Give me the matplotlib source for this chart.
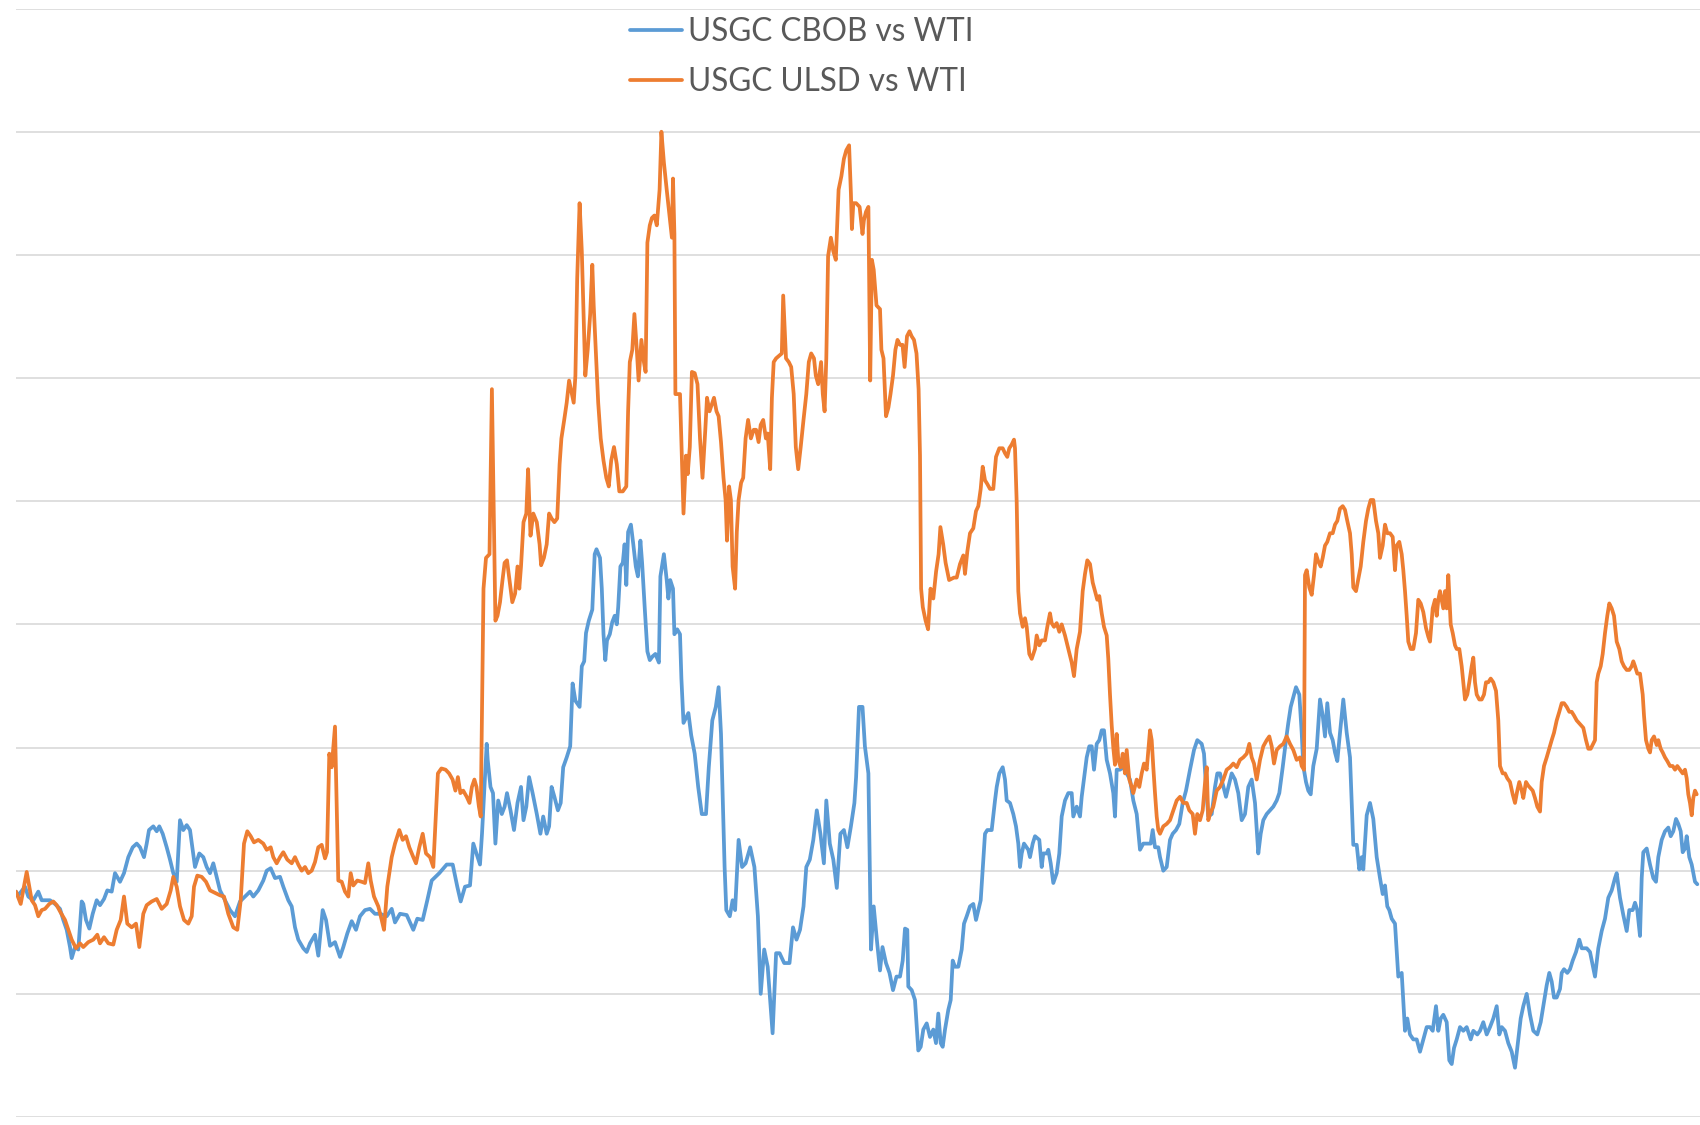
import matplotlib
matplotlib.use("Agg")
from matplotlib import pyplot as plt

plt.rcParams['font.family'] = ['Lato', 'DejaVu Sans']

# x = trading-day index inside the window, y = spread in gridline units
cbob_days = [
    0, 2.3, 9, 12.3, 17.3, 22.3, 25.7, 34, 39, 44, 47.3, 50.7, 54, 55.7, 59, 62.3,
    65.7, 67.3, 70, 73.3, 76.7, 80.7, 84, 88, 91.3, 95.7, 99, 104, 108, 112.3, 116.7,
    120.7, 124, 128, 130.7, 133, 137.3, 140.7, 143.3, 146.7, 150.7, 154, 157.3, 160.7,
    164, 167.3, 170.7, 174, 179, 183.3, 187.3, 190.7, 194, 197.3, 204, 209, 214, 219,
    224, 229, 234, 237.3, 242.3, 247.3, 250.7, 254.7, 259, 264, 267.3, 272.3, 275.7,
    279, 282.3, 287.3, 290.7, 294, 299, 302.3, 306.7, 310, 314, 319, 324, 327.3, 331.3,
    335.7, 340, 344, 349, 354, 359, 364, 370.7, 375.7, 379, 384, 390.7, 397.3, 401.3,
    406.7, 411.3, 415.7, 423.3, 430.7, 436.7, 441.3, 444.7, 449, 454, 457.3, 464, 466,
    470.7, 471.7, 474.5, 477, 479.4, 482.2, 485.8, 488.6, 491, 494.5, 498, 501.5, 505,
    507.5, 510.3, 513.1, 516.6, 520.8, 524.4, 527.2, 530.7, 533.1, 535.6, 538.4, 541.9,
    544.7, 547.2, 550.7, 554.2, 556.6, 559.4, 563.6, 565.8, 568.2, 570, 572.8, 576.3,
    578.7, 580.5, 584, 585.8, 587.5, 589.3, 591, 593.8, 596.3, 598.7, 600.8, 602.2,
    604.4, 606.8, 608.6, 610.3, 612.1, 614.9, 617.3, 619.8, 621.9, 624.4, 626.1, 628.9,
    631.4, 633.8, 636.6, 639.4, 642.9, 644.4, 647.9, 650.7, 652.4, 654.2, 657, 658.4,
    661.2, 664, 665.4, 667.5, 670, 672.4, 675.2, 678.7, 682.2, 685.8, 690, 692.8, 696.3,
    699.8, 702.6, 705, 706.8, 708.6, 710.3, 713.8, 716.6, 719.1, 722.6, 726.1, 729.6,
    734.2, 738.4, 741.9, 744.7, 748.2, 751.7, 756.6, 760.1, 763.6, 768.2, 773.5, 777,
    780.5, 784, 787.5, 790.3, 793.8, 797.3, 800.8, 804.4, 807.9, 810.3, 813.8, 817.3,
    820.8, 824.4, 827.9, 831.4, 834.9, 838.4, 840.1, 843, 846.5, 848.9, 852.4, 854.2,
    855, 857.7, 861.2, 864, 866.5, 870, 873.5, 877, 880.5, 884, 886.7, 889, 891.3, 892.3,
    895.7, 899, 902.3, 904.7, 907.3, 910.7, 914, 917.3, 920, 922.3, 924.7, 926.7, 929,
    932.3, 934.7, 936.7, 939, 942.3, 945.7, 948, 950.7, 954, 957.3, 960, 962.3, 964.7,
    969, 971.3, 975.7, 979, 980.7, 983.3, 986.7, 989, 990.7, 994, 997.3, 1000, 1002.3,
    1004, 1005.7, 1008, 1012.3, 1014, 1016.7, 1019, 1023.3, 1025.7, 1027.3, 1030.7,
    1032.3, 1034.7, 1037.3, 1040.7, 1043.3, 1045.7, 1049, 1052.3, 1055.7, 1057.3,
    1060.7, 1064, 1065.7, 1070.7, 1073.3, 1075.7, 1078, 1080.7, 1083.3, 1085.7, 1088,
    1090.7, 1094, 1097.3, 1099, 1100.7, 1104, 1107.3, 1110.7, 1114, 1117.3, 1120.7,
    1124, 1127.3, 1130.7, 1134.7, 1136.7, 1139, 1142.3, 1144, 1147.3, 1150.7, 1154,
    1156.7, 1160, 1163.3, 1166.7, 1170, 1174, 1178, 1181.3, 1185.7, 1188, 1190, 1192.3,
    1195.7, 1199, 1201.3, 1204, 1210, 1213.3, 1215.7, 1219, 1222.3, 1225.7, 1229,
    1232.3, 1235.7, 1239, 1242.3, 1244.7, 1247.3, 1250.7, 1254, 1257.3, 1260.7, 1263.3,
    1266.7, 1270, 1272.3, 1274.7, 1277.3, 1280, 1283.3, 1285.7, 1287.3, 1290, 1292.3,
    1294.7, 1297.3, 1300.7, 1304, 1306.7, 1309, 1311.3, 1314, 1316.7, 1319, 1321.3,
    1324, 1327.3, 1330.7, 1334, 1337.3, 1340.7, 1343.3, 1345.7, 1347.3, 1350.7, 1354,
    1357.3, 1360.7, 1364, 1366.7, 1369, 1371.3, 1373.3, 1375.7, 1379, 1382.3, 1385.7,
    1389, 1391.3, 1394, 1397.3, 1400.7, 1404, 1407.3, 1410.7, 1414, 1416.7, 1420,
    1422.3, 1424.7, 1427.3, 1430.7, 1433.3, 1435.7, 1438, 1440.7, 1444, 1447.3, 1450.7,
    1454.7, 1457.3, 1461.3, 1464, 1467.3, 1470.7, 1474, 1477.3, 1480.7, 1483.3, 1485.7,
    1489, 1492.3, 1495.7, 1499, 1502.3, 1504.7, 1507.3, 1510.7, 1514, 1517.3, 1521.3,
    1524.7, 1527.3, 1530.7, 1533.3, 1535.7, 1538, 1540.7, 1544, 1545.7, 1548, 1551.3,
    1554, 1556.7, 1560, 1563.3, 1565.7, 1570.7, 1574, 1579, 1582.3, 1585.7, 1589,
    1592.3, 1595.7, 1599, 1600.7, 1604, 1607.3, 1610.7, 1613.3, 1616.7, 1619, 1621.3,
    1624, 1625.7, 1627.3, 1630.7, 1634, 1637.3, 1640, 1642.3, 1645.7, 1649, 1652.3,
    1654.7, 1657.3, 1660, 1662.3, 1664.7, 1666.7, 1669, 1670.7, 1673.3, 1675.7, 1679,
    1681.3,
]
cbob_spread = [
    1.83, 1.80, 1.87, 1.79, 1.76, 1.83, 1.76, 1.76, 1.73, 1.69, 1.60, 1.52, 1.38, 1.29, 1.38, 1.36,
    1.75, 1.73, 1.60, 1.53, 1.65, 1.76, 1.72, 1.77, 1.84, 1.83, 1.98, 1.91, 1.98, 2.11, 2.19,
    2.22, 2.19, 2.11, 2.22, 2.33, 2.36, 2.32, 2.36, 2.30, 2.19, 2.09, 1.98, 1.91,
    2.41, 2.33, 2.37, 2.33, 2.03, 2.14, 2.11, 2.03, 1.98, 2.06, 1.84, 1.76, 1.68, 1.63,
    1.75, 1.79, 1.83, 1.79, 1.84, 1.92, 2.00, 2.02, 1.94, 1.95, 1.87, 1.76, 1.71,
    1.54, 1.44, 1.37, 1.34, 1.41, 1.48, 1.31, 1.68, 1.60, 1.39, 1.42, 1.30, 1.38, 1.49,
    1.59, 1.52, 1.63, 1.68, 1.69, 1.65, 1.65, 1.63, 1.69, 1.58, 1.65, 1.64, 1.52, 1.61,
    1.60, 1.76, 1.92, 1.98, 2.05, 2.05, 1.87, 1.75, 1.87, 1.88, 2.22, 2.05, 2.30,
    3.03, 2.90, 2.68, 2.63, 2.22, 2.57, 2.46, 2.52, 2.63, 2.49, 2.33, 2.55, 2.68,
    2.41, 2.52, 2.76, 2.63, 2.46, 2.30, 2.44, 2.30, 2.36, 2.68, 2.60, 2.49,
    2.55, 2.84, 2.92, 3.01, 3.52, 3.38, 3.33, 3.66, 3.70, 3.93, 4.03, 4.12,
    4.57, 4.61, 4.54, 4.29, 3.92, 3.71, 3.87, 3.92, 4.02, 4.07, 4.00, 4.14,
    4.47, 4.50, 4.65, 4.32, 4.75, 4.81, 4.65, 4.47, 4.39, 4.68, 4.50, 4.11,
    3.78, 3.71, 3.74, 3.76, 3.69, 4.39, 4.57, 4.36, 4.21, 4.36, 4.29, 3.92,
    3.96, 3.92, 3.56, 3.20, 3.24, 3.28, 3.10, 2.95, 2.68, 2.46, 2.46, 2.84, 3.22,
    3.33, 3.49, 3.11, 2.57, 2.03, 1.68, 1.63, 1.76, 1.68, 2.25, 2.03, 2.06,
    2.19, 2.03, 1.63, 1.00, 1.36, 1.22, 0.68, 1.33, 1.33, 1.25, 1.25, 1.54,
    1.44, 1.52, 1.71, 2.03, 2.09, 2.25, 2.49, 2.30, 2.06, 2.57, 2.22, 2.09,
    1.86, 2.30, 2.33, 2.19, 2.36, 2.55, 2.76, 3.33, 3.33, 3.01, 2.79, 1.76,
    1.36, 1.71, 1.41, 1.19, 1.38, 1.25, 1.17, 1.03, 1.14, 1.14, 1.27, 1.53, 1.52, 1.06,
    1.03, 0.95, 0.54, 0.57, 0.71, 0.76, 0.65, 0.71, 0.60, 0.84, 0.60, 0.57, 0.71,
    0.87, 0.95, 1.27, 1.22, 1.22, 1.36, 1.57, 1.63, 1.71, 1.73, 1.60, 1.68, 1.76,
    2.30, 2.33, 2.33, 2.57, 2.68, 2.79, 2.84, 2.74, 2.57, 2.55, 2.46, 2.36, 2.22,
    2.03, 2.14, 2.22, 2.17, 2.11, 2.22, 2.28, 2.25, 2.03, 2.14, 2.14,
    2.17, 2.06, 1.90, 1.98, 2.14, 2.44, 2.57, 2.63, 2.63, 2.44,
    2.52, 2.44, 2.60, 2.92, 3.01, 3.01, 2.82, 3.03, 3.06, 3.14, 3.14,
    2.90, 2.79, 2.63, 2.44, 2.82, 2.82, 2.84, 2.79, 2.74, 2.57, 2.46,
    2.17, 2.22, 2.22, 2.22, 2.33, 2.19, 2.19, 2.11, 2.00, 2.03, 2.25,
    2.30, 2.33, 2.38, 2.55, 2.65, 2.82, 2.98, 3.06, 3.03, 2.95, 2.68, 2.44,
    2.46, 2.68, 2.79, 2.79, 2.60, 2.71, 2.79, 2.74, 2.63, 2.41, 2.46,
    2.68, 2.74, 2.55, 2.14, 2.30, 2.41, 2.46, 2.49, 2.52, 2.57, 2.63,
    2.84, 3.06, 3.20, 3.33, 3.41, 3.49, 3.43, 3.12, 2.85, 2.72, 2.65,
    2.62, 2.85, 2.99, 3.39, 3.26, 3.09, 3.36, 3.12, 3.06, 2.96, 2.89,
    3.12, 3.39, 3.12, 2.92, 2.21, 2.21, 2.01, 2.11, 2.01, 2.45, 2.55,
    2.42, 2.11, 1.94, 1.81, 1.88, 1.71, 1.68, 1.61, 1.57, 1.14, 1.17,
    0.70, 0.80, 0.67, 0.63, 0.63, 0.53, 0.63, 0.73, 0.73, 0.70, 0.90,
    0.70, 0.80, 0.83, 0.77, 0.46, 0.43, 0.56, 0.63, 0.73, 0.70, 0.73,
    0.63, 0.70, 0.67, 0.70, 0.77, 0.67, 0.73, 0.80, 0.90, 0.67, 0.73,
    0.70, 0.60, 0.53, 0.40, 0.63, 0.80, 0.90, 1.00, 0.83, 0.70, 0.67,
    0.77, 0.90, 1.07, 1.17, 1.10, 0.97, 0.97, 1.04, 1.17, 1.20, 1.17,
    1.20, 1.27, 1.34, 1.44, 1.37, 1.37, 1.34, 1.14, 1.37, 1.51, 1.61,
    1.78, 1.84, 1.94, 1.98, 1.78, 1.64, 1.51, 1.68, 1.68, 1.74, 1.68,
    1.47, 1.94, 2.15, 2.18, 2.05, 1.94, 1.91, 2.11, 2.25, 2.32, 2.35,
    2.28, 2.32, 2.42, 2.38, 2.32, 2.15, 2.18, 2.28, 2.11, 2.05, 1.91,
    1.89,
]

ulsd_days = [
    0, 4.7, 10.7, 13.3, 15.7, 19, 22.3, 25.7, 29, 33.3, 37.3, 40.7, 44, 49, 52.3, 55.7,
    60, 64, 67.3, 72.3, 77.3, 81.3, 84, 88, 92.3, 97.3, 100.7, 104.7, 108, 111.3, 115.7,
    120, 123.3, 127.3, 130.7, 135.7, 140.7, 145.7, 150.7, 154.7, 157.3, 160.7, 164, 168,
    172.3, 175.7, 178, 181.3, 185.7, 190, 194, 199, 204, 208, 212.3, 217.3, 221.3,
    224.7, 228, 231.3, 234.7, 238, 242.3, 247.3, 250.7, 254.7, 257.3, 260.7, 264, 267.3,
    271.3, 275.7, 279, 282.3, 285.7, 289, 292.3, 295.7, 299, 302.3, 305.7, 309, 311,
    313.3, 315.7, 319, 322.3, 325.7, 329, 332.3, 334.7, 337.3, 341.3, 345.7, 349, 352.3,
    354.7, 358, 362.3, 365.7, 368, 371.3, 375.7, 379, 383.3, 386.7, 390, 393.3, 397.3,
    400, 403.3, 406.7, 410, 414, 417.3, 421.9, 425.4, 429.6, 433.1, 436.6, 439.4, 441.9,
    444.4, 447.2, 450.7, 453.5, 455.9, 458.4, 460.5, 462.9, 464.7, 467.5, 470, 473.5,
    475.9, 479.4, 481.5, 484, 486.5, 488.6, 491, 493.5, 496.3, 499.1, 501.5, 503.3, 505,
    507.5, 510.3, 512.1, 514.5, 517.3, 520.8, 523.6, 525.1, 527.9, 530.7, 533.1, 535.6,
    538.4, 541.2, 543.6, 545.4, 548.2, 550.7, 553.1, 555.9, 557.7, 559.4, 561.2, 563.6,
    565.8, 569.3, 571.7, 574.2, 576.3, 577.7, 579.8, 582.2, 584.7, 587.5, 590.3, 592.8,
    595.2, 598, 600.8, 603.3, 606.8, 610.3, 612.1, 613.8, 616.3, 618.4, 620.8, 622.6,
    625.4, 627.9, 629.6, 631.4, 633.8, 635.9, 638.4, 640.8, 643.6, 645.4, 647.9, 650.7,
    653.5, 655.9, 657, 658.4, 659.4, 661.2, 664, 665.8, 667.5, 670, 671.7, 673.8, 675.9,
    678.7, 681.5, 684, 686.5, 689.3, 691, 693.5, 696.3, 698, 700.5, 702.6, 705, 707.5,
    709.6, 711, 713.1, 714.9, 716.6, 719.1, 720.8, 722.6, 725.1, 727.2, 729.6, 732.1,
    734.9, 737.7, 740.1, 742.6, 744.7, 747.2, 749.9, 751.7, 754.2, 755.9, 757.7, 760.1,
    762.9, 765.8, 767.2, 770, 772.8, 775.2, 777.7, 779.8, 782.2, 784.7, 787.5, 790.3,
    792.8, 795.2, 798, 799.8, 802.2, 805.1, 806.8, 808.6, 810.3, 812.1, 814.9, 817.3,
    819.8, 822.6, 825.4, 827.9, 830.3, 833.1, 834.9, 835.9, 837.3, 840.1, 843.6, 846.5,
    847.9, 850, 852.4, 854.2, 855.9, 857.7, 860.5, 864, 865.4, 867.5, 870, 872.4, 874.5,
    877, 879.4, 881.5, 884, 886.5, 888.6, 891, 893.5, 895.6, 898, 900.5, 902.6, 904,
    905.1, 906.8, 909.6, 912.1, 914.5, 917.3, 920.1, 922.6, 924.4, 927.2, 929.6, 933.1,
    938, 940.7, 944, 947.3, 949, 951.3, 954, 957.3, 960, 962.3, 964.7, 966.7, 969, 971.3,
    974, 977.3, 980, 983.3, 986.7, 989, 991.3, 993.3, 995.7, 998, 999, 1000.7, 1002.3,
    1004, 1006.7, 1009, 1010.7, 1013.3, 1015.7, 1019, 1020.7, 1023.3, 1025.7, 1029,
    1031.3, 1034, 1035.7, 1038, 1040.7, 1043.3, 1045.7, 1049, 1052.3, 1055.7, 1058,
    1060.7, 1064, 1066.7, 1069, 1071.3, 1074, 1076.7, 1079, 1081.3, 1083.3, 1085.7, 1088,
    1090.7, 1092.3, 1094, 1095.7, 1097.3, 1099, 1100.7, 1102.3, 1104.7, 1106.7, 1109,
    1110.7, 1113.3, 1115.7, 1117.3, 1120.7, 1123.3, 1125.7, 1128, 1130.7, 1132.3, 1134,
    1135.7, 1137.3, 1139, 1140.7, 1142.3, 1144, 1147.3, 1150.7, 1154, 1157.3, 1160.7,
    1164, 1167.3, 1170.7, 1173.3, 1176.7, 1179, 1181.3, 1184, 1186.7, 1189, 1190.7,
    1192.3, 1194, 1197.3, 1200.7, 1204, 1207.3, 1210.7, 1214, 1217.3, 1220.7, 1224,
    1227.3, 1230.7, 1233.3, 1235.7, 1238, 1240.7, 1244, 1247.3, 1250.7, 1253.3, 1255.7,
    1258, 1260.7, 1264, 1267.3, 1270.7, 1274, 1277.3, 1280.7, 1284, 1285.7, 1288, 1289,
    1290.7, 1293.3, 1295.7, 1298, 1300, 1302.3, 1304.7, 1306.7, 1309, 1311.3, 1314,
    1316.7, 1319, 1321.3, 1324, 1326.7, 1329, 1331.3, 1334, 1335.7, 1337.3, 1340,
    1342.3, 1344.7, 1347.3, 1350, 1352.3, 1354.7, 1357.3, 1360, 1362.3, 1364, 1366.7,
    1369, 1371.3, 1374, 1376.7, 1379, 1380.7, 1383.3, 1385.7, 1387.3, 1389, 1390.7,
    1392.3, 1394.7, 1397.3, 1400, 1402.3, 1404.7, 1407.3, 1410, 1412.3, 1414, 1416.7,
    1419, 1420.7, 1422.3, 1424, 1425.7, 1427.3, 1429, 1430.7, 1432.3, 1434.7, 1436.7,
    1439, 1440.7, 1443.3, 1445.7, 1447.3, 1449, 1451.3, 1453.3, 1455.7, 1457.3, 1459,
    1460.7, 1463.3, 1465.7, 1468, 1470, 1472.3, 1474.7, 1477.3, 1480, 1482.3, 1484,
    1486.7, 1489, 1491.3, 1494, 1496.7, 1499, 1501.3, 1503.3, 1505.7, 1507.3, 1510,
    1512.3, 1516.7, 1519, 1521.3, 1524, 1525.7, 1528, 1530.7, 1535.7, 1538, 1540.7,
    1543.3, 1545.7, 1548, 1550.7, 1553.3, 1555.7, 1558, 1560.7, 1564, 1567.3, 1570,
    1572.3, 1574.7, 1579, 1580.7, 1582.3, 1584.7, 1586.7, 1589, 1591.3, 1593.3, 1595.7,
    1598, 1600.7, 1603.3, 1605.7, 1608, 1610.7, 1613.3, 1615.7, 1617.3, 1619, 1621.3,
    1624, 1626.7, 1628, 1630, 1632.3, 1634, 1635.7, 1638, 1640.7, 1642.3, 1644.7,
    1646.7, 1649, 1651.3, 1654, 1656.7, 1659, 1661.3, 1664, 1666.7, 1669, 1670.7,
    1672.3, 1674, 1675.7, 1677.3, 1679, 1680.7,
]
ulsd_spread = [
    1.83, 1.73, 1.99, 1.87, 1.76, 1.72, 1.63, 1.68, 1.69, 1.73, 1.75, 1.72, 1.67, 1.60, 1.52, 1.44,
    1.37, 1.41, 1.38, 1.42, 1.44, 1.48, 1.41, 1.46, 1.41, 1.40, 1.52, 1.60, 1.79, 1.57, 1.54,
    1.57, 1.38, 1.65, 1.72, 1.75, 1.77, 1.69, 1.73, 1.84, 1.95, 1.87, 1.71, 1.60,
    1.57, 1.63, 1.87, 1.96, 1.95, 1.91, 1.84, 1.82, 1.80, 1.79, 1.65, 1.54, 1.52,
    1.76, 2.22, 2.32, 2.28, 2.23, 2.25, 2.22, 2.17, 2.19, 2.11, 2.06, 2.11, 2.15,
    2.09, 2.06, 2.11, 2.05, 2.00, 2.03, 1.98, 2.00, 2.07, 2.19, 2.21, 2.10, 2.15,
    2.95, 2.84, 3.17, 1.92, 1.91, 1.83, 1.79, 1.98, 1.88, 1.92, 1.91, 1.90, 2.06,
    1.92, 1.79, 1.71, 1.60, 1.52, 1.87, 2.11, 2.22, 2.33, 2.25, 2.28, 2.19, 2.11,
    2.06, 2.19, 2.30, 2.14, 2.11, 2.03, 2.79, 2.83, 2.82, 2.79, 2.74, 2.65, 2.76,
    2.63, 2.65, 2.60, 2.55, 2.68, 2.74, 2.68, 2.52, 2.44, 4.29, 4.54, 4.57,
    5.91, 4.03, 4.07, 4.18, 4.36, 4.50, 4.52, 4.36, 4.18, 4.25, 4.47, 4.29, 4.47,
    4.83, 4.90, 5.26, 4.72, 4.90, 4.83, 4.65, 4.48, 4.54, 4.65, 4.90, 4.86,
    4.83, 4.86, 5.30, 5.51, 5.66, 5.80, 5.98, 5.87, 5.80, 6.02, 6.81, 7.42,
    7.03, 6.02, 6.23, 6.52, 6.92, 6.59, 6.23, 5.80, 5.51, 5.33, 5.19, 5.12,
    5.33, 5.44, 5.30, 5.08, 5.08, 5.12, 5.73, 6.13, 6.23, 6.52, 6.23, 5.98,
    6.31, 6.13, 6.05, 7.10, 7.24, 7.30, 7.32, 7.24, 7.53, 8.00, 7.75, 7.53,
    7.32, 7.14, 7.62, 7.17, 5.87, 5.87, 5.87, 5.37, 4.90, 5.37, 5.22, 5.44, 6.05,
    6.04, 5.95, 5.51, 5.19, 5.58, 5.84, 5.73, 5.80, 5.84, 5.73, 5.69, 5.48, 5.19,
    5.01, 4.68, 5.12, 5.01, 4.47, 4.29, 4.75, 5.01, 5.15, 5.19, 5.51, 5.66,
    5.51, 5.58, 5.58, 5.48, 5.62, 5.66, 5.51, 5.55, 5.26, 5.84, 6.13, 6.16,
    6.18, 6.20, 6.67, 6.16, 6.13, 6.09, 5.87, 5.44, 5.26, 5.44, 5.66, 5.87,
    6.13, 6.20, 6.16, 6.02, 5.95, 6.13, 5.87, 5.73, 6.16, 6.99, 7.14, 7.03,
    6.96, 7.53, 7.64, 7.78, 7.85, 7.89, 7.50, 7.21, 7.42, 7.42, 7.39, 7.17,
    7.28, 7.35, 7.39, 5.98, 6.96, 6.88, 6.59, 6.56, 6.23, 6.16, 5.69, 5.76, 5.87,
    6.02, 6.23, 6.31, 6.27, 6.27, 6.09, 6.34, 6.38, 6.34, 6.31, 6.20, 5.91, 5.37,
    4.29, 4.14, 4.03, 3.96, 4.29, 4.21, 4.43, 4.57, 4.79, 4.65, 4.50, 4.36,
    4.38, 4.38, 4.49, 4.56, 4.41, 4.59, 4.74, 4.78, 4.92, 4.96, 5.10, 5.28, 5.17, 5.14,
    5.10, 5.10, 5.36, 5.43, 5.43, 5.39, 5.36, 5.43, 5.46, 5.50, 5.43, 4.99, 4.27,
    4.09, 3.98, 4.05, 3.98, 3.76, 3.72, 3.80, 3.91, 3.83, 3.87, 3.87,
    3.98, 4.09, 4.01, 3.98, 4.01, 3.94, 4.00, 3.91, 3.80, 3.69, 3.58,
    3.80, 3.94, 4.27, 4.41, 4.52, 4.49, 4.34, 4.27, 4.20, 4.23, 4.09, 3.98,
    3.91, 3.72, 3.43, 3.18, 3.00, 2.86, 3.11, 2.90, 2.84, 2.95, 2.79,
    2.98, 2.74, 2.68, 2.63, 2.74, 2.68, 2.79, 2.87, 2.82, 2.98, 3.14,
    3.06, 2.84, 2.63, 2.44, 2.33, 2.30, 2.36, 2.38, 2.41, 2.49, 2.57,
    2.60, 2.55, 2.55, 2.49, 2.46, 2.30, 2.46, 2.41, 2.49, 2.71, 2.84,
    2.41, 2.46, 2.52, 2.65, 2.68, 2.74, 2.82, 2.84, 2.87, 2.84, 2.90,
    2.92, 2.95, 3.03, 2.92, 2.87, 2.74, 2.90, 3.01, 3.06, 3.09, 3.01,
    2.87, 2.98, 3.01, 3.03, 3.09, 3.03, 2.98, 2.90, 2.92, 2.85, 2.82, 4.40,
    4.44, 4.30, 4.24, 4.40, 4.57, 4.51, 4.47, 4.54, 4.64, 4.67, 4.74,
    4.74, 4.81, 4.84, 4.94, 4.96, 4.93, 4.84, 4.74, 4.57, 4.30, 4.27,
    4.37, 4.47, 4.67, 4.84, 4.94, 5.01, 5.01, 4.84, 4.74, 4.54, 4.64,
    4.81, 4.74, 4.74, 4.71, 4.44, 4.64, 4.67, 4.57, 4.44, 4.27, 4.07,
    3.86, 3.80, 3.80, 3.93, 4.20, 4.17, 4.10, 3.97, 3.90, 3.86, 4.13,
    4.20, 4.07, 4.20, 4.27, 4.20, 4.13, 4.27, 4.13, 4.40, 4.00, 3.93,
    3.83, 3.80, 3.80, 3.66, 3.53, 3.39, 3.43, 3.53, 3.66, 3.73, 3.53,
    3.43, 3.39, 3.39, 3.43, 3.53, 3.53, 3.56, 3.53, 3.46, 3.22, 2.85,
    2.79, 2.79, 2.75, 2.72, 2.62, 2.55, 2.65, 2.72, 2.65, 2.59, 2.72,
    2.69, 2.65, 2.59, 2.52, 2.48, 2.72, 2.85, 2.92, 3.06, 3.12, 3.22,
    3.29, 3.36, 3.36, 3.33, 3.29, 3.29, 3.26, 3.22, 3.19, 3.16, 3.06,
    2.99, 2.99, 3.06, 3.53, 3.60, 3.66, 3.76, 3.93, 4.07, 4.17, 4.13,
    4.07, 3.86, 3.80, 3.70, 3.66, 3.63, 3.63, 3.66, 3.70, 3.66, 3.60,
    3.60, 3.43, 3.26, 3.06, 2.99, 2.96, 3.06, 3.09, 3.02, 3.06, 2.99,
    2.96, 2.92, 2.89, 2.85, 2.85, 2.82, 2.85, 2.82, 2.79, 2.82, 2.75,
    2.62, 2.55, 2.45, 2.59, 2.65, 2.62,
]

series_names = ['USGC CBOB vs WTI', 'USGC ULSD vs WTI']
series_colors = ['#5B9BD5', '#ED7D31']
grid_levels = list(range(0, 10))

W, H = 1700, 1125
fig = plt.figure(figsize=(W / 100, H / 100), dpi=100)
ax = fig.add_axes([16 / W, 8 / H, 1 - 16 / W, (1117 - 8.6) / H])

lines = []
for days, vals, name, col in [(cbob_days, cbob_spread, series_names[0], series_colors[0]),
                              (ulsd_days, ulsd_spread, series_names[1], series_colors[1])]:
    ln, = ax.plot(days, vals, color=col, lw=2.7, label=name,
                  solid_joinstyle='round', solid_capstyle='round')
    lines.append(ln)

ax.set_xlim(0, 1684)
ax.set_ylim(0, 9)
ax.set_yticks(grid_levels)
ax.set_xticks([])
ax.yaxis.grid(True, color='#d9d9d9', lw=1.2)
ax.set_axisbelow(True)
ax.tick_params(left=False, bottom=False, labelleft=False, labelbottom=False)
for s in ax.spines.values():
    s.set_visible(False)

fig.legend(lines, series_names, loc='upper left',
           bbox_to_anchor=(630 / W, 1 - 17 / H), frameon=False,
           fontsize=22.7, handlelength=1.65, handletextpad=0.18,
           labelspacing=0.64, borderpad=0, borderaxespad=0,
           labelcolor='#595959')

fig.savefig('out.png', dpi=100)
